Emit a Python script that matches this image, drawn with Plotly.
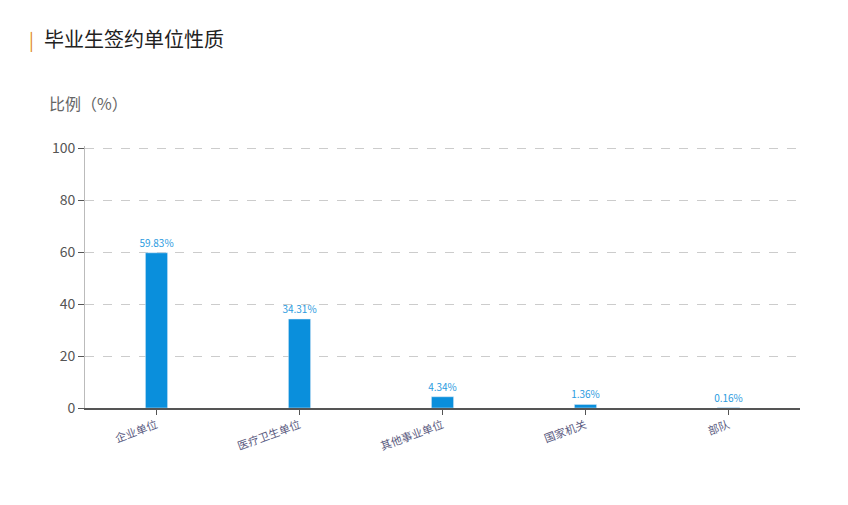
import plotly.graph_objects as go

categories = ["企业单位", "医疗卫生单位", "其他事业单位", "国家机关", "部队"]
values = [59.83, 34.31, 4.34, 1.36, 0.16]
labels = ["59.83%", "34.31%", "4.34%", "1.36%", "0.16%"]

font = "Noto Sans CJK SC"
fig = go.Figure(go.Bar(
    x=categories, y=values, text=labels, textposition="outside",
    constraintext="none",
    textfont=dict(color="#2a9be0", size=10, family=font),
    marker_color="#0a8fdc", width=0.155, cliponaxis=False,
))
fig.update_layout(
    width=848, height=505, plot_bgcolor="white", paper_bgcolor="white",
    margin=dict(l=77, r=56, t=138, b=105), showlegend=False,
    font=dict(family=font, color="#555"),
)
fig.update_yaxes(range=[0, 101], tickvals=[0, 20, 40, 60, 80, 100], showgrid=True,
                 gridcolor="#cccccc", griddash="dash", zeroline=False, ticks="outside",
                 ticklen=6, tickcolor="#555", showline=True, linecolor="#bbb",
                 tickfont=dict(size=14, color="#555"))
fig.update_xaxes(showline=True, linecolor="#555", linewidth=1.5, ticks="outside",
                 ticklen=5, tickcolor="#555", tickangle=-20,
                 tickfont=dict(size=11, color="#5a5a80"))
fig.add_annotation(text="毕业生签约单位性质", xref="paper", yref="paper",
                   x=-0.06, y=1.41, xanchor="left", yanchor="middle",
                   showarrow=False, font=dict(size=20, color="#222"))
fig.add_annotation(text="|", xref="paper", yref="paper",
                   x=-0.068, y=1.41, xanchor="right", yanchor="middle",
                   showarrow=False, font=dict(size=18, color="#e08a1e"))
fig.add_annotation(text="比例（%）", xref="paper", yref="paper",
                   x=-0.053, y=1.165, xanchor="left", yanchor="middle",
                   showarrow=False, font=dict(size=16, color="#666"))
fig.write_html("out.html")
